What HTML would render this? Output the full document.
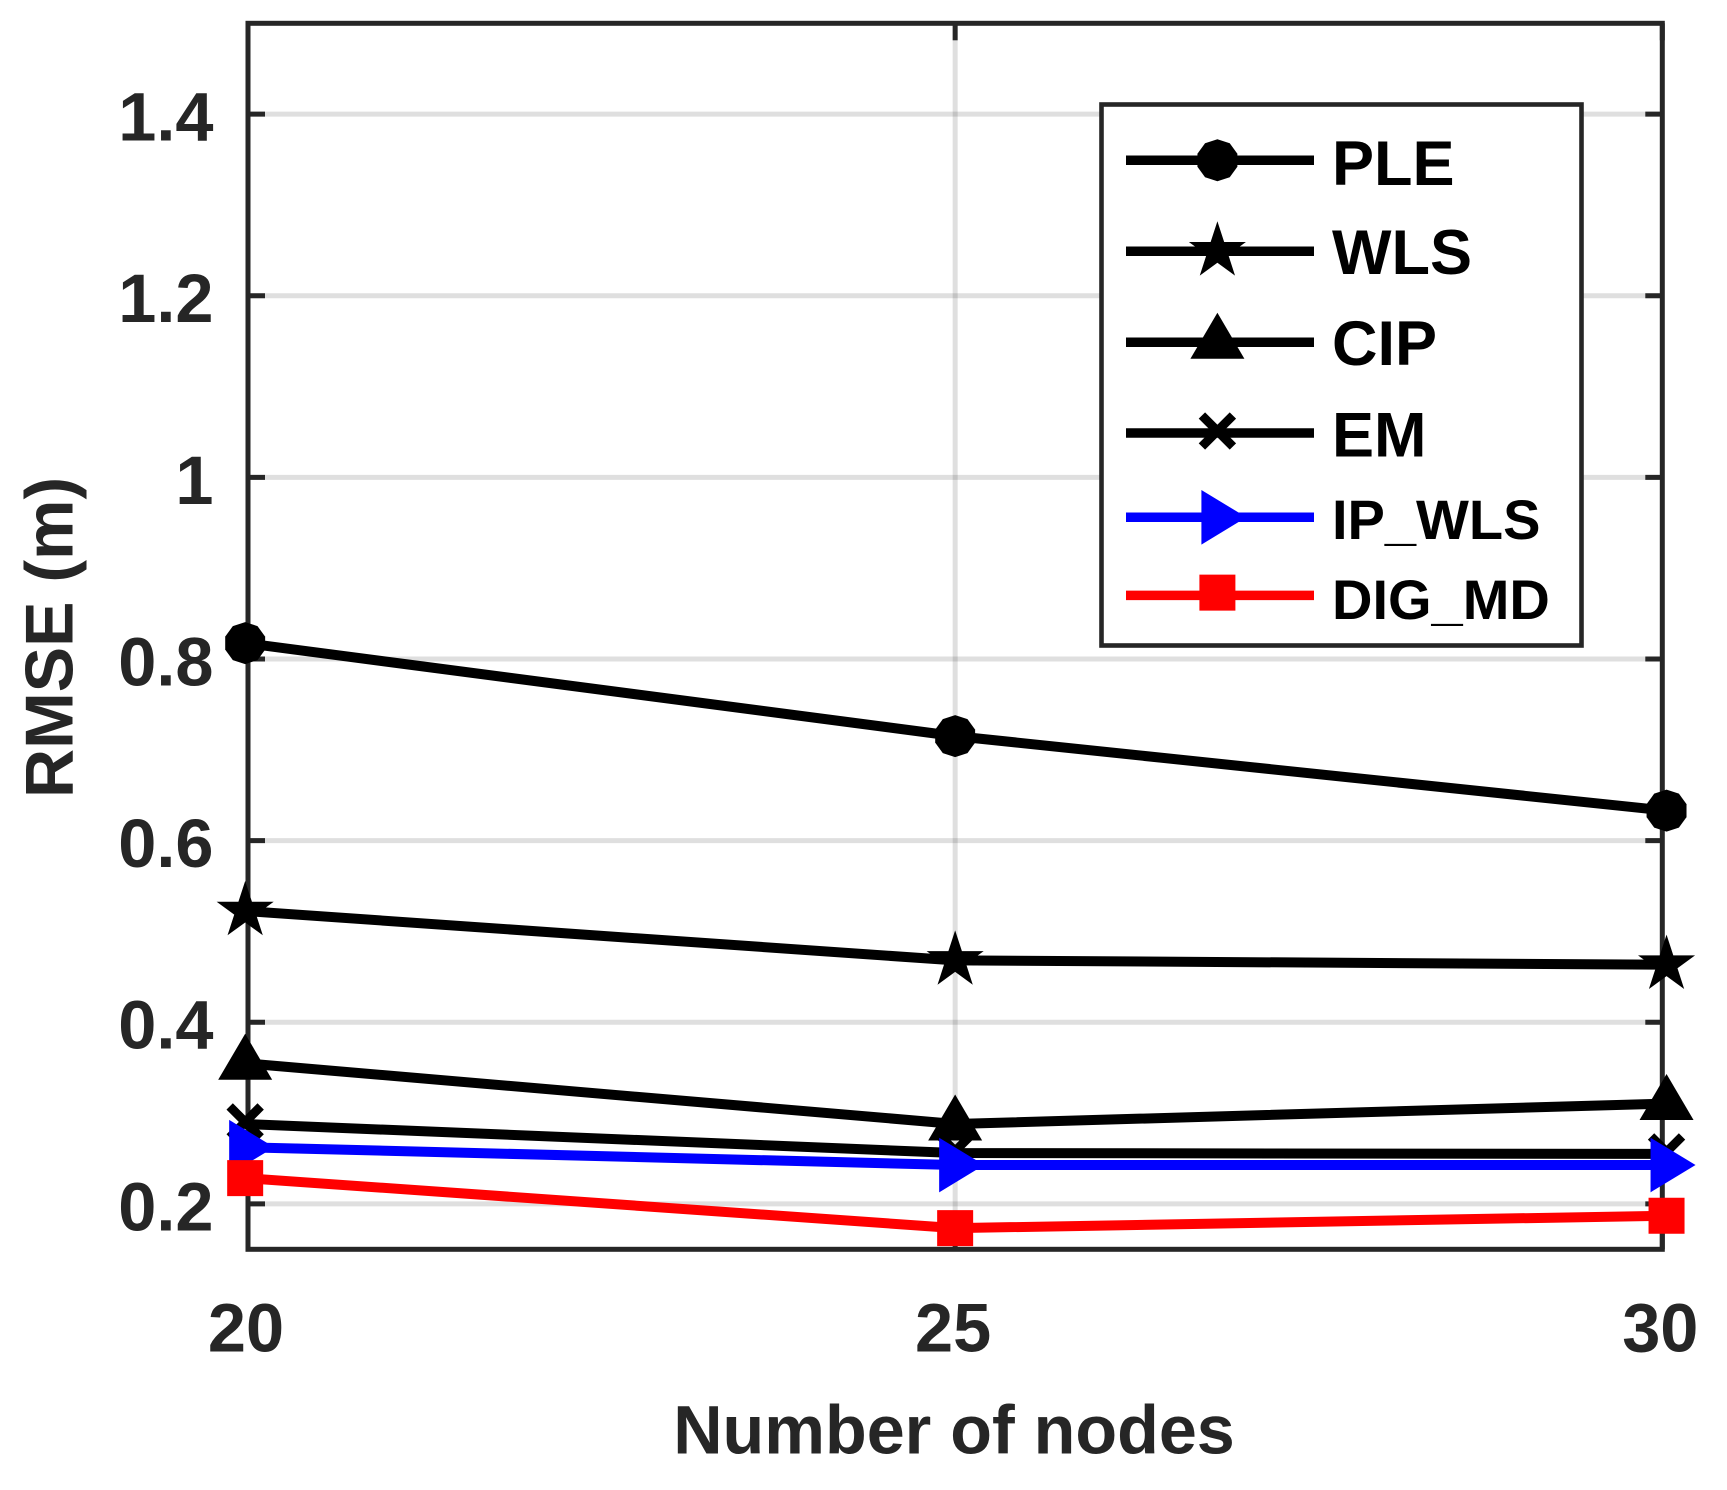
<!DOCTYPE html>
<html lang="en">
<head>
<meta charset="utf-8">
<title>RMSE vs number of nodes</title>
<style>
  html, body { margin: 0; padding: 0; background: #fff; }
  svg { display: block; }
  text { font-family: "Liberation Sans", Arial, sans-serif; font-weight: bold; }
</style>
</head>
<body>
<svg id="chart" xmlns="http://www.w3.org/2000/svg" width="1727" height="1490" viewBox="0 0 1727 1490">
  <rect x="0" y="0" width="1727" height="1490" fill="#ffffff"></rect>
  <g id="grid"></g>
  <g id="axes"></g>
  <g id="series"></g>
  <g id="legend"></g>
  <text x="954" y="1453.5" text-anchor="middle" font-size="68.3" fill="#262626">Number of nodes</text>
  <text transform="translate(72.7,798) rotate(-90)" font-size="68" fill="#262626">RMSE (m)</text>
</svg>
<script>
// ---- chart data ----
const xTickValues = [20, 25, 30];
const xTickLabels = ['20', '25', '30'];
const yTickValues = [0.2, 0.4, 0.6, 0.8, 1.0, 1.2, 1.4];
const yTickLabels = ['0.2', '0.4', '0.6', '0.8', '1', '1.2', '1.4'];
const nodeCounts = [19.98, 25, 30.03];
const pleValues = [0.8175, 0.7151, 0.633];
const wlsValues = [0.5225, 0.4681, 0.4634];
const cipValues = [0.3548, 0.288, 0.3105];
const emValues = [0.288, 0.256, 0.255];
const ipWlsValues = [0.2624, 0.2428, 0.2428];
const digMdValues = [0.2284, 0.1733, 0.187];
const seriesNames = ['PLE', 'WLS', 'CIP', 'EM', 'IP_WLS', 'DIG_MD'];

// ---- axis functions ----
const xMin = 20, xMax = 30, yMin = 0.15, yMax = 1.5;
const plotLeft = 248, plotRight = 1662.3, plotTop = 23.3, plotBottom = 1249.3;
function xScale(v) { return plotLeft + (v - xMin) / (xMax - xMin) * (plotRight - plotLeft); }
function yScale(v) { return plotBottom - (v - yMin) / (yMax - yMin) * (plotBottom - plotTop); }

const NS = 'http://www.w3.org/2000/svg';
function make(tag, attrs, parent) {
  const el = document.createElementNS(NS, tag);
  for (const k in attrs) el.setAttribute(k, attrs[k]);
  parent.appendChild(el);
  return el;
}
const axisColor = '#262626';
const gridG = document.getElementById('grid');
const axesG = document.getElementById('axes');
const seriesG = document.getElementById('series');
const legendG = document.getElementById('legend');

// ---- grid ----
yTickValues.forEach(function (v) {
  const g = make('line', { x1: plotLeft, x2: plotRight, y1: yScale(v), y2: yScale(v), stroke: axisColor, 'stroke-opacity': 0.15, 'stroke-width': 5 }, gridG);
  
  
});
xTickValues.slice(1, -1).forEach(function (v) {
  const g = make('line', { x1: xScale(v), x2: xScale(v), y1: plotTop, y2: plotBottom, stroke: axisColor, 'stroke-opacity': 0.15, 'stroke-width': 5 }, gridG);
  
  
});

// ---- axes box, ticks, tick labels ----
const box = make('rect', { x: plotLeft, y: plotTop, width: plotRight - plotLeft, height: plotBottom - plotTop, fill: 'none', stroke: axisColor, 'stroke-width': 5 }, axesG);



const tickLen = 17;
yTickValues.forEach(function (v, i) {
  const y = yScale(v);
  const t1 = make('line', { x1: plotLeft, x2: plotLeft + tickLen, y1: y, y2: y, stroke: axisColor, 'stroke-width': 5 }, axesG);
  
  
  const t2 = make('line', { x1: plotRight, x2: plotRight - tickLen, y1: y, y2: y, stroke: axisColor, 'stroke-width': 5 }, axesG);
  
  
  const lab = make('text', { x: 213.5, y: y + 26.4, 'text-anchor': 'end', 'font-size': 68.5, fill: axisColor }, axesG);
  lab.textContent = yTickLabels[i];
  
  
});
xTickValues.forEach(function (v, i) {
  const x = xScale(v);
  const t1 = make('line', { x1: x, x2: x, y1: plotBottom, y2: plotBottom - tickLen, stroke: axisColor, 'stroke-width': 5 }, axesG);
  
  
  const t2 = make('line', { x1: x, x2: x, y1: plotTop, y2: plotTop + tickLen, stroke: axisColor, 'stroke-width': 5 }, axesG);
  
  
  const lab = make('text', { x: x - 2, y: 1351.7, 'text-anchor': 'middle', 'font-size': 68.5, fill: axisColor }, axesG);
  lab.textContent = xTickLabels[i];
  
  
});

// ---- marker drawing ----
function pts(list, cx, cy) {
  return list.map(function (p) { return (cx + p[0]) + ',' + (cy + p[1]); }).join(' ');
}
function ring(n, r, startDeg, r2) {
  const out = [];
  for (let i = 0; i < n; i++) {
    const a = (startDeg + i * 360 / n) * Math.PI / 180;
    const rr = (r2 && i % 2) ? r2 : r;
    out.push([rr * Math.cos(a), rr * Math.sin(a)]);
  }
  return out;
}
const decagon = ring(10, 21, -90);
const star = ring(10, 30, -90, 11.5);
const triUp = [[0, -29.5], [27, 16.5], [-27, 16.5]];
const triRight = [[-16, -27.3], [29, 0], [-16, 27.3]];
const square = [[-18, -18], [18, -18], [18, 18], [-18, 18]];

function drawMarker(kind, cx, cy, color, parent) {
  if (kind === 'x') {
    const a = 15.5;
    const group = make('g', { stroke: color, 'stroke-width': 9, fill: 'none' }, parent);
    make('line', { x1: cx - a, y1: cy - 2 - a, x2: cx + a, y2: cy - 2 + a }, group);
    make('line', { x1: cx - a, y1: cy - 2 + a, x2: cx + a, y2: cy - 2 - a }, group);
    return group;
  }
  const shape = { circle: decagon, star: star, triUp: triUp, triRight: triRight, square: square }[kind];
  return make('polygon', { points: pts(shape, cx, cy), fill: color }, parent);
}

// ---- series ----
const seriesValues = [pleValues, wlsValues, cipValues, emValues, ipWlsValues, digMdValues];
const seriesMarkers = ['circle', 'star', 'triUp', 'x', 'triRight', 'square'];
const seriesColors = ['#000000', '#000000', '#000000', '#000000', '#0000ff', '#ff0000'];
const seriesSlugs = ['ple', 'wls', 'cip', 'em', 'ip-wls', 'dig-md'];

seriesValues.forEach(function (vals, s) {
  const g = make('g', {}, seriesG);
  
  
  const line = make('polyline', {
    points: vals.map(function (v, i) { return xScale(nodeCounts[i]) + ',' + yScale(v); }).join(' '),
    fill: 'none', stroke: seriesColors[s], 'stroke-width': 10, 'stroke-linejoin': 'miter'
  }, g);
  
  
  vals.forEach(function (v, i) {
    const m = drawMarker(seriesMarkers[s], xScale(nodeCounts[i]), yScale(v), seriesColors[s], g);
    
    
  });
});

// ---- legend ----
const legendBox = make('rect', { x: 1101.5, y: 104.5, width: 480, height: 541, fill: '#ffffff', stroke: axisColor, 'stroke-width': 4.6 }, legendG);



const legendLineY = [160.3, 251.3, 342.3, 433, 517.3, 595.4];
const legendMarkerDy = [0, 0, 0, 0, 0, -2.8];
const legendTextY = [185, 274.2, 365, 456.3, 538.8, 619];
const legendFont = [63, 63, 63, 63, 56, 56];
seriesNames.forEach(function (name, s) {
  const g = make('g', {}, legendG);
  
  
  const l = make('line', { x1: 1126, x2: 1314, y1: legendLineY[s], y2: legendLineY[s], stroke: seriesColors[s], 'stroke-width': 9.5 }, g);
  
  
  const m = drawMarker(seriesMarkers[s], 1217.4, legendLineY[s] + legendMarkerDy[s], seriesColors[s], g);
  
  
  const t = make('text', { x: 1332, y: legendTextY[s], 'font-size': legendFont[s], fill: '#000000' }, g);
  t.textContent = name;
  
  
});
</script>
</body>
</html>
